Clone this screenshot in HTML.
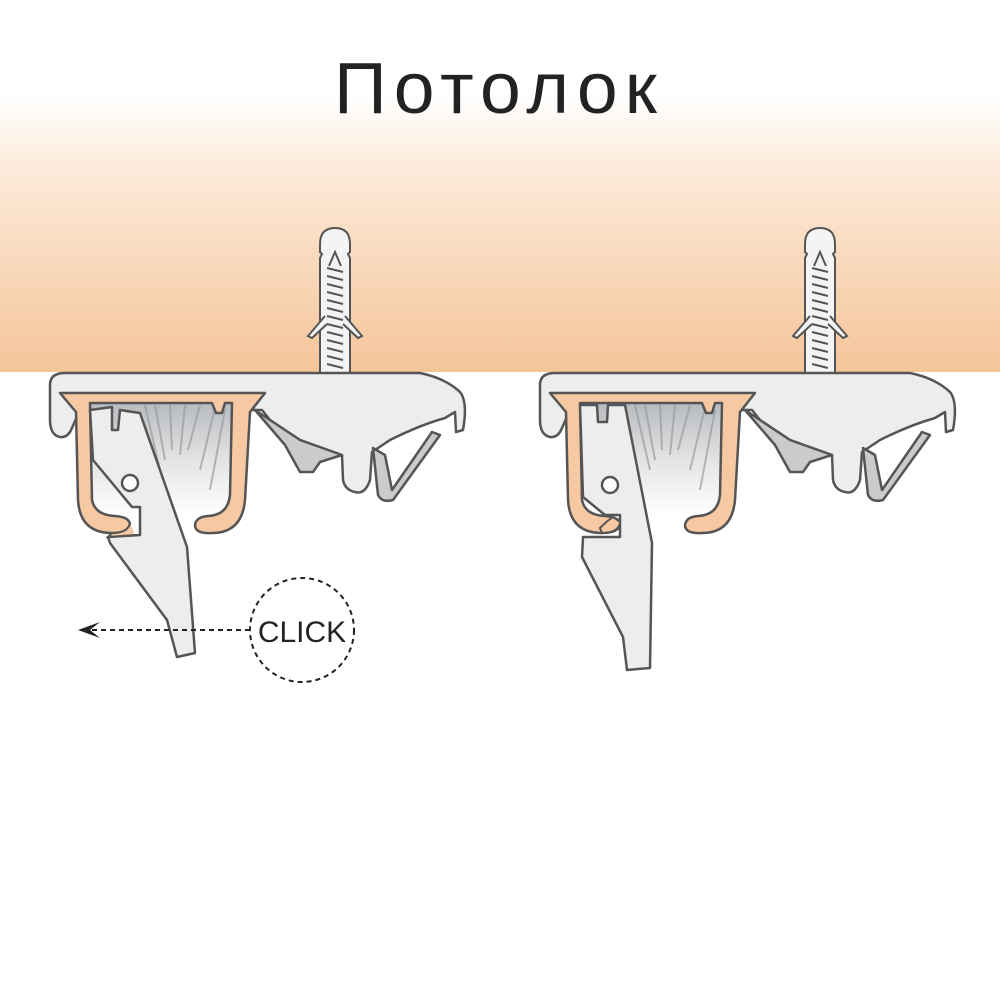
<!DOCTYPE html>
<html><head><meta charset="utf-8"><style>
html,body{margin:0;padding:0;background:#fff}
svg{display:block}
</style></head><body>
<svg width="1000" height="1000" viewBox="0 0 1000 1000" xmlns="http://www.w3.org/2000/svg">
<defs>
<linearGradient id="ceil" x1="0" y1="0" x2="0" y2="1">
<stop offset="0" stop-color="#ffffff"/>
<stop offset="0.3" stop-color="#fce8d6"/>
<stop offset="1" stop-color="#f5c59a"/>
</linearGradient>
<linearGradient id="inn" x1="0" y1="0" x2="0" y2="1">
<stop offset="0" stop-color="#b8bbbe"/>
<stop offset="0.5" stop-color="#e2e3e4"/>
<stop offset="1" stop-color="#ffffff"/>
</linearGradient>
<g id="screw">
<path d="M-15,8 Q-15,-8 0,-8 Q15,-8 15,8 L15,16 L13,18 L15,22 L15,140 L-15,140 L-15,22 L-13,18 L-15,16 Z" fill="#f4f4f4" stroke="#555" stroke-width="2"/>
<path d="M-6,30 L0,16 L6,30" fill="none" stroke="#555" stroke-width="2"/>
<g stroke="#555" stroke-width="2">
<line x1="-8" y1="32" x2="8" y2="36"/><line x1="-8" y1="40" x2="8" y2="44"/><line x1="-8" y1="48" x2="8" y2="52"/><line x1="-8" y1="56" x2="8" y2="60"/><line x1="-8" y1="64" x2="8" y2="68"/><line x1="-8" y1="72" x2="8" y2="76"/><line x1="-8" y1="80" x2="8" y2="84"/><line x1="-8" y1="88" x2="8" y2="92"/><line x1="-8" y1="96" x2="8" y2="100"/><line x1="-8" y1="104" x2="8" y2="108"/><line x1="-8" y1="112" x2="8" y2="116"/><line x1="-8" y1="120" x2="8" y2="124"/><line x1="-8" y1="128" x2="8" y2="132"/>
</g>
<path d="M-10,80 L-27,100 L-23,102 L-8,88 M10,80 L27,100 L23,102 L8,88" fill="#f4f4f4" stroke="#555" stroke-width="2"/>
</g>
<g id="body">
<path d="M50,385 Q50,373 65,373 L420,373 Q445,378 460,392 Q468,402 463,430 L456,432 L455,412 L445,418 Q420,425 390,440 L372,452 L370,480 Q365,495 355,492 Q345,490 343,480 L342,455 L300,440 L270,420 L262,410 L80,410 L72,428 Q68,438 60,437 Q50,435 50,420 Z" fill="#eceded" stroke="#555" stroke-width="2.5" stroke-linejoin="round"/>
<path d="M255,410 L285,445 L300,472 L313,472 L320,462 L342,455 L300,440 L270,420 Z" fill="#c9cbcd" stroke="#555" stroke-width="2.5" stroke-linejoin="round"/>
<path d="M373,448 L378,495 Q382,503 393,500 L440,435 L432,432 L392,490 L385,455 Z" fill="#c9cbcd" stroke="#555" stroke-width="2.5" stroke-linejoin="round"/>
<rect x="90" y="403" width="142" height="112" fill="url(#inn)"/>
<g stroke="#9a9da0" stroke-width="2" opacity="0.7">
<line x1="145" y1="405" x2="160" y2="470"/><line x1="155" y1="405" x2="165" y2="460"/><line x1="170" y1="405" x2="172" y2="450"/><line x1="185" y1="405" x2="180" y2="455"/><line x1="200" y1="405" x2="188" y2="450"/><line x1="215" y1="408" x2="200" y2="470"/><line x1="225" y1="410" x2="210" y2="490"/>
</g>
<path d="M60,393 L265,393 L250,412 L245,500 Q242,533 212,533 Q195,534 195,525 Q196,517 208,516 Q228,515 230,495 L232,403 L225,403 L222,413 L216,413 L212,403 L90,403 L92,500 Q95,515 115,516 Q130,517 130,525 Q128,533 112,533 Q80,533 78,500 L76,412 Z" fill="#f6c9a2" stroke="#555" stroke-width="2.5" stroke-linejoin="round"/>
</g>
</defs>
<rect x="0" y="95" width="1000" height="277" fill="url(#ceil)"/>
<text x="499" y="113" text-anchor="middle" font-family="Liberation Sans, sans-serif" font-size="72" fill="#222" letter-spacing="7" textLength="330" lengthAdjust="spacingAndGlyphs">Потолок</text>

<use href="#screw" x="335" y="236"/>
<use href="#screw" x="820" y="236"/>

<use href="#body"/>
<path d="M90,410 L112,407 L112,430 L118,430 L120,410 L140,413 L187,547 L195,653 L177,657 L167,620 L110,543 L108,537 L140,535 L140,507 L132,507 L93,460 Z" fill="#eceded" stroke="#555" stroke-width="2.5" stroke-linejoin="round"/>
<circle cx="130" cy="483" r="8" fill="#fff" stroke="#555" stroke-width="2.5"/>
<path d="M130,523 Q128,533 112,533 L108,537 L135,535" fill="#f6c9a2" stroke="#555" stroke-width="2"/>

<use href="#body" x="490"/>
<path d="M580,405 L597,405 L598,422 L607,422 L608,405 L625,405 L652,543 L650,668 L627,670 L623,637 L582,557 L583,537 L620,537 L620,515 L605,515 L583,497 Z" fill="#eceded" stroke="#555" stroke-width="2.5" stroke-linejoin="round"/>
<circle cx="610" cy="485" r="8" fill="#fff" stroke="#555" stroke-width="2.5"/>
<path d="M620,523 Q618,533 602,533 L600,528 Q608,520 612,518" fill="#f6c9a2" stroke="#555" stroke-width="2"/>

<circle cx="302" cy="630" r="52" fill="none" stroke="#222" stroke-width="2" stroke-dasharray="5,4"/>
<line x1="250" y1="630" x2="84" y2="630" stroke="#222" stroke-width="2" stroke-dasharray="5,4"/>
<path d="M78,630 L100,622 L90,630 L100,638 Z" fill="#222"/>
<text x="302" y="642" text-anchor="middle" font-family="Liberation Sans, sans-serif" font-size="30" fill="#222">CLICK</text>
</svg>
</body></html>
